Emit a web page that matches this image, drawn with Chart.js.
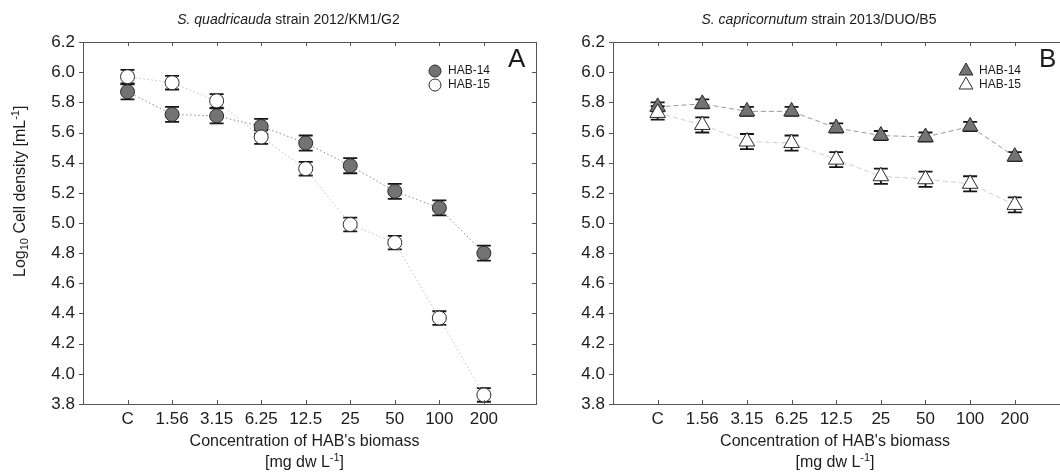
<!DOCTYPE html>
<html>
<head>
<meta charset="utf-8">
<script src="https://cdn.jsdelivr.net/npm/chart.js@4.4.1/dist/chart.umd.min.js"></script>
<style>
    html, body { margin: 0; padding: 0; background: #fff; }
    #wrap { position: relative; width: 1060px; height: 472px; overflow: hidden; }
    .panel { position: absolute; top: 0; height: 472px; }
</style>
</head>
<body>
<div id="wrap">
    <div class="panel" style="left:0;width:550px"><canvas id="chartA"></canvas></div>
    <div class="panel" style="left:550px;width:540px"><canvas id="chartB"></canvas></div>
</div>
<script>
// ---- data ----
const doses = ['C', '1.56', '3.15', '6.25', '12.5', '25', '50', '100', '200'];
const yTickValues = [3.8, 4.0, 4.2, 4.4, 4.6, 4.8, 5.0, 5.2, 5.4, 5.6, 5.8, 6.0, 6.2];

// panel A: S. quadricauda
const quadHab14 = [5.87, 5.72, 5.71, 5.64, 5.53, 5.38, 5.21, 5.10, 4.80];
const quadHab14Err = [0.05, 0.05, 0.05, 0.05, 0.05, 0.05, 0.05, 0.05, 0.05];
const quadHab15 = [5.97, 5.93, 5.81, 5.57, 5.36, 4.99, 4.87, 4.37, 3.86];
const quadHab15Err = [0.045, 0.045, 0.045, 0.045, 0.045, 0.045, 0.045, 0.045, 0.045];

// panel B: S. capricornutum
const capHab14 = [5.77, 5.79, 5.74, 5.74, 5.63, 5.58, 5.57, 5.64, 5.44];
const capHab14Err = [0.03, 0.03, 0.03, 0.03, 0.03, 0.03, 0.03, 0.03, 0.03];
const capHab15 = [5.73, 5.65, 5.54, 5.53, 5.42, 5.31, 5.29, 5.26, 5.12];
const capHab15Err = [0.045, 0.05, 0.05, 0.05, 0.05, 0.05, 0.05, 0.05, 0.05];

const FONT = "'Liberation Sans', Arial, sans-serif";
const INK = '#1c1c1c';
const FRAME = '#555';

// draw runs of text with sub/superscripts, left aligned at x
function richWidth(ctx, runs) {
    let w = 0;
    runs.forEach(r => {
        ctx.font = (r.italic ? 'italic ' : '') + r.size + 'px ' + FONT;
        w += ctx.measureText(r.t).width;
    });
    return w;
}
function drawRich(ctx, runs, x, y) {
    ctx.textBaseline = 'middle';
    ctx.textAlign = 'left';
    runs.forEach(r => {
        ctx.font = (r.italic ? 'italic ' : '') + r.size + 'px ' + FONT;
        ctx.fillText(r.t, x, y + (r.dy || 0));
        x += ctx.measureText(r.t).width;
    });
}

// error bars under the markers
const errorBars = {
    id: 'errorBars',
    beforeDatasetsDraw(chart) {
        const { ctx, scales: { y } } = chart;
        ctx.save();
        ctx.strokeStyle = '#151515';
        ctx.lineWidth = 1.8;
        chart.data.datasets.forEach((ds, di) => {
            const meta = chart.getDatasetMeta(di);
            meta.data.forEach((pt, i) => {
                const v = ds.data[i].y, e = ds.errors[i];
                const y1 = y.getPixelForValue(v + e), y2 = y.getPixelForValue(v - e);
                ctx.beginPath();
                ctx.moveTo(pt.x, y1); ctx.lineTo(pt.x, y2);
                ctx.moveTo(pt.x - 7, y1); ctx.lineTo(pt.x + 7, y1);
                ctx.moveTo(pt.x - 7, y2); ctx.lineTo(pt.x + 7, y2);
                ctx.stroke();
            });
        });
        ctx.restore();
    }
};

// frame, inward/outward ticks, titles, legend and panel letter
const decor = {
    id: 'decor',
    afterDraw(chart, args, opts) {
        const { ctx, chartArea: a, scales: { x, y } } = chart;
        ctx.save();
        ctx.strokeStyle = FRAME;
        ctx.lineWidth = 1;
        ctx.strokeRect(a.left + 0.5, a.top + 0.5, a.right - a.left, a.bottom - a.top);
        ctx.beginPath();
        doses.forEach((d, i) => {
            const px = Math.round(x.getPixelForValue(i)) + 0.5;
            ctx.moveTo(px, a.bottom); ctx.lineTo(px, a.bottom - 4);
            ctx.moveTo(px, a.top); ctx.lineTo(px, a.top + 4);
        });
        yTickValues.forEach(v => {
            const py = Math.round(y.getPixelForValue(v)) + 0.5;
            ctx.moveTo(a.left, py); ctx.lineTo(a.left - 4, py);
            ctx.moveTo(a.right, py); ctx.lineTo(a.right - 4, py);
        });
        ctx.stroke();

        ctx.fillStyle = INK;
        const cx = (a.left + a.right) / 2;
        // title
        const tw = richWidth(ctx, opts.title);
        drawRich(ctx, opts.title, cx - 21 - tw / 2, 20);
        // x axis title
        const l1 = [{ t: "Concentration of HAB's biomass", size: 16 }];
        const l2 = [{ t: '[mg dw L', size: 16 }, { t: '-1', size: 11, dy: -5 }, { t: ']', size: 16 }];
        drawRich(ctx, l1, cx - 5 - richWidth(ctx, l1) / 2, 442);
        drawRich(ctx, l2, cx - 5 - richWidth(ctx, l2) / 2, 463);
        // y axis title
        if (opts.yTitle) {
            ctx.save();
            ctx.translate(21, 277);
            ctx.rotate(-Math.PI / 2);
            drawRich(ctx, [
                { t: 'Log', size: 16 }, { t: '10', size: 11, dy: 4 },
                { t: ' Cell density [mL', size: 16 }, { t: '-1', size: 11, dy: -5 }, { t: ']', size: 16 }
            ], 0, 0);
            ctx.restore();
        }
        // panel letter
        ctx.font = '26px ' + FONT;
        ctx.textBaseline = 'middle';
        ctx.fillText(opts.letter, a.right - 28, a.top + 18);
        // legend
        chart.data.datasets.forEach((ds, i) => {
            const ly = a.top + 29 + i * 14;
            ctx.fillStyle = ds.pointBackgroundColor;
            ctx.strokeStyle = ds.pointBorderColor;
            ctx.lineWidth = 1;
            Chart.helpers.drawPoint(ctx, { pointStyle: ds.pointStyle, radius: ds.pointRadius - 1, borderWidth: 1, rotation: 0 }, a.right - 101, ly);
            ctx.fillStyle = INK;
            ctx.font = '12px ' + FONT;
            ctx.fillText(ds.label, a.right - 88, ly);
        });
        ctx.restore();
    }
};

function series(label, values, errs, style) {
    return Object.assign({
        label,
        data: values.map((v, i) => ({ x: i, y: v })),
        errors: errs,
        borderWidth: 1,
        pointBorderColor: '#2a2a2a',
        pointBorderWidth: 1,
        pointHoverRadius: 7,
        fill: false
    }, style);
}

function makeChart(id, datasets, yWidth, rightPad, decorOpts) {
    return new Chart(document.getElementById(id), {
        type: 'line',
        data: { datasets },
        options: {
            responsive: true,
            maintainAspectRatio: false,
            animation: false,
            layout: { padding: { left: 0, right: rightPad, top: 42, bottom: 0 } },
            scales: {
                x: {
                    type: 'linear', min: -1, max: 9.17,
                    grid: { display: false, drawTicks: false },
                    border: { display: false },
                    afterBuildTicks: s => { s.ticks = doses.map((d, i) => ({ value: i })); },
                    afterFit: s => { s.height = 68; },
                    ticks: { padding: 5, color: INK, font: { family: FONT, size: 17 }, callback: v => doses[v] }
                },
                y: {
                    min: 3.8, max: 6.2,
                    grid: { display: false, drawTicks: false },
                    border: { display: false },
                    afterBuildTicks: s => { s.ticks = yTickValues.map(v => ({ value: v })); },
                    afterFit: s => { s.width = yWidth; },
                    ticks: { padding: 8, color: INK, font: { family: FONT, size: 17 }, callback: v => v.toFixed(1) }
                }
            },
            plugins: { legend: { display: false }, tooltip: { enabled: false }, decor: decorOpts }
        },
        plugins: [errorBars, decor]
    });
}

makeChart('chartA', [
    series('HAB-14', quadHab14, quadHab14Err, {
        order: 1, borderColor: '#8a8a8a', borderDash: [1.5, 2.5],
        pointStyle: 'circle', pointRadius: 7, pointBackgroundColor: '#737373'
    }),
    series('HAB-15', quadHab15, quadHab15Err, {
        order: 0, borderColor: '#c2c2c2', borderDash: [1.5, 2.5],
        pointStyle: 'circle', pointRadius: 7, pointBackgroundColor: '#ffffff'
    })
], 83, 14, {
    letter: 'A', yTitle: true,
    title: [{ t: 'S. quadricauda', size: 14, italic: true }, { t: ' strain 2012/KM1/G2', size: 14 }]
});

makeChart('chartB', [
    series('HAB-14', capHab14, capHab14Err, {
        order: 1, borderColor: '#999999', borderDash: [5, 3],
        pointStyle: 'triangle', pointRadius: 9, pointBackgroundColor: '#737373'
    }),
    series('HAB-15', capHab15, capHab15Err, {
        order: 0, borderColor: '#cfcfcf', borderDash: [5, 3],
        pointStyle: 'triangle', pointRadius: 9, pointBackgroundColor: '#ffffff'
    })
], 63, 23, {
    letter: 'B', yTitle: false,
    title: [{ t: 'S. capricornutum', size: 14, italic: true }, { t: ' strain 2013/DUO/B5', size: 14 }]
});
</script>
</body>
</html>
